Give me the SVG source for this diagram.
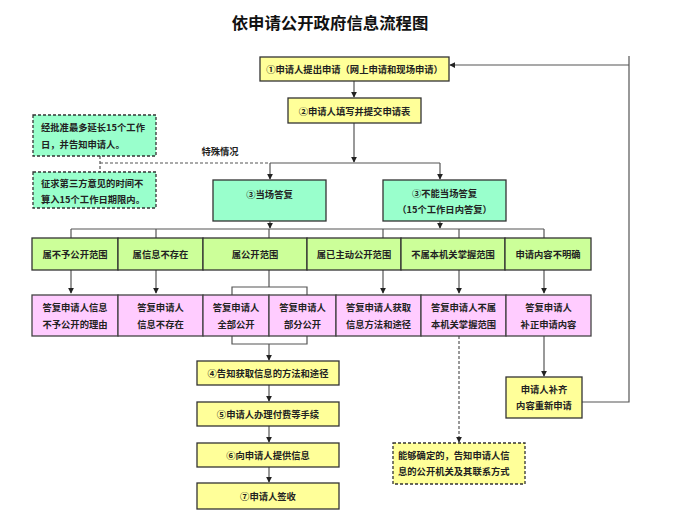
<svg xmlns="http://www.w3.org/2000/svg" width="696" height="529" viewBox="0 0 696 529">
<style>
text{font-family:"Noto Sans CJK SC","Noto Sans",sans-serif;font-size:9.3px;font-weight:bold;fill:#222;text-anchor:middle;dominant-baseline:central}
text.l{text-anchor:start}
.title{font-size:16.4px;fill:#111}
.y{fill:#FFFF99;stroke:#333;stroke-width:1.3}
.m{fill:#99FFCC;stroke:#333;stroke-width:1.3}
.g{fill:#CCFF99;stroke:#333;stroke-width:1.3}
.p{fill:#FFCCFF;stroke:#444;stroke-width:1.3}
.d{stroke:#333;stroke-width:1.3;stroke-dasharray:3 2}
.ln{fill:none;stroke:#555;stroke-width:1.2}
.dl{fill:none;stroke:#555;stroke-width:1.2;stroke-dasharray:3 2}
</style>
<defs>
<marker id="ar" viewBox="0 0 8 8" refX="7" refY="4" markerWidth="6" markerHeight="6" orient="auto" markerUnits="userSpaceOnUse">
<path d="M0,0 L8,4 L0,8 z" fill="#222"/>
</marker>
</defs>
<rect width="696" height="529" fill="#fff"/>
<text class="title" x="330" y="22">依申请公开政府信息流程图</text>

<g id="connectors">
<line class="ln" x1="354" y1="81" x2="354" y2="97" marker-end="url(#ar)"/>
<line class="ln" x1="354" y1="123" x2="354" y2="162" marker-end="url(#ar)"/>
<polyline class="ln" points="270,163 440,163"/>
<line class="ln" x1="270" y1="163" x2="270" y2="179" marker-end="url(#ar)"/>
<line class="ln" x1="440" y1="163" x2="440" y2="179" marker-end="url(#ar)"/>
<polyline class="dl" points="100,156 100,172"/>
<polyline class="dl" points="100,163 270,163"/>
<line class="ln" x1="270" y1="221" x2="270" y2="228" marker-end="url(#ar)"/>
<line class="ln" x1="440" y1="221" x2="440" y2="228" marker-end="url(#ar)"/>
<polyline class="ln" points="71,229 544,229"/>
<line class="ln" x1="71" y1="229" x2="71" y2="238"/>
<line class="ln" x1="156" y1="229" x2="156" y2="238"/>
<line class="ln" x1="269" y1="229" x2="269" y2="238"/>
<line class="ln" x1="383" y1="229" x2="383" y2="238"/>
<line class="ln" x1="459" y1="229" x2="459" y2="238"/>
<line class="ln" x1="544" y1="229" x2="544" y2="238"/>
<line class="ln" x1="71" y1="270" x2="71" y2="293" marker-end="url(#ar)"/>
<line class="ln" x1="156" y1="270" x2="156" y2="293" marker-end="url(#ar)"/>
<line class="ln" x1="269" y1="270" x2="269" y2="287"/>
<polyline class="ln" points="232,295 232,287 307,287 307,295"/>
<polyline class="ln" points="232,336 232,344 307,344 307,336"/>
<line class="ln" x1="269" y1="344" x2="269" y2="360" marker-end="url(#ar)"/>
<line class="ln" x1="383" y1="270" x2="383" y2="293" marker-end="url(#ar)"/>
<line class="ln" x1="459" y1="270" x2="459" y2="293" marker-end="url(#ar)"/>
<line class="ln" x1="544" y1="270" x2="544" y2="293" marker-end="url(#ar)"/>
<line class="ln" x1="269" y1="385" x2="269" y2="401" marker-end="url(#ar)"/>
<line class="ln" x1="269" y1="426" x2="269" y2="442" marker-end="url(#ar)"/>
<line class="ln" x1="269" y1="467" x2="269" y2="482" marker-end="url(#ar)"/>
<line class="ln" x1="544" y1="336" x2="544" y2="376" marker-end="url(#ar)"/>
<polyline class="ln" points="582,402 629,402 629,56"/>
<line class="ln" x1="629" y1="65" x2="450" y2="65" marker-end="url(#ar)"/>
<line class="dl" x1="459" y1="336" x2="459" y2="442" marker-end="url(#ar)"/>
</g>

<text x="220" y="151">特殊情况</text>

<g id="n1"><rect class="y" x="260" y="57" width="189" height="24"/><text x="354.5" y="69">①申请人提出申请（网上申请和现场申请）</text></g>
<g id="n2"><rect class="y" x="288" y="98" width="133" height="25"/><text x="354.5" y="110.5">②申请人填写并提交申请表</text></g>
<g id="d1"><rect class="m d" x="33" y="115" width="123" height="41"/><text class="l" x="41" y="127">经批准最多延长15个工作</text><text class="l" x="41" y="144">日，并告知申请人。</text></g>
<g id="d2"><rect class="m d" x="33" y="172" width="123" height="36"/><text class="l" x="41" y="183">征求第三方意见的时间不</text><text class="l" x="41" y="199">算入15个工作日期限内。</text></g>
<g id="n3a"><rect class="m" x="213" y="180" width="113" height="41"/><text x="269.5" y="194">③当场答复</text></g>
<g id="n3b"><rect class="m" x="383" y="180" width="123" height="41"/><text x="444.5" y="193">③不能当场答复</text><text x="444.5" y="209">（15个工作日内答复）</text></g>

<g id="g1"><rect class="g" x="32" y="238" width="86" height="32"/><text x="75" y="254">属不予公开范围</text></g>
<g id="g2"><rect class="g" x="118" y="238" width="85" height="32"/><text x="160.5" y="254">属信息不存在</text></g>
<g id="g3"><rect class="g" x="203" y="238" width="104" height="32"/><text x="255" y="254">属公开范围</text></g>
<g id="g4"><rect class="g" x="307" y="238" width="94" height="32"/><text x="354" y="254">属已主动公开范围</text></g>
<g id="g5"><rect class="g" x="401" y="238" width="104" height="32"/><text x="453" y="254">不属本机关掌握范围</text></g>
<g id="g6"><rect class="g" x="505" y="238" width="86" height="32"/><text x="548" y="254">申请内容不明确</text></g>

<g id="p1"><rect class="p" x="32" y="295" width="86" height="41"/><text x="75" y="307">答复申请人信息</text><text x="75" y="324">不予公开的理由</text></g>
<g id="p2"><rect class="p" x="118" y="295" width="85" height="41"/><text x="160.5" y="307">答复申请人</text><text x="160.5" y="324">信息不存在</text></g>
<g id="p3"><rect class="p" x="203" y="295" width="66" height="41"/><text x="236" y="307">答复申请人</text><text x="236" y="324">全部公开</text></g>
<g id="p4"><rect class="p" x="269" y="295" width="67" height="41"/><text x="302.5" y="307">答复申请人</text><text x="302.5" y="324">部分公开</text></g>
<g id="p5"><rect class="p" x="336" y="295" width="85" height="41"/><text x="378.5" y="307">答复申请人获取</text><text x="378.5" y="324">信息方法和途径</text></g>
<g id="p6"><rect class="p" x="421" y="295" width="85" height="41"/><text x="463.5" y="307">答复申请人不属</text><text x="463.5" y="324">本机关掌握范围</text></g>
<g id="p7"><rect class="p" x="506" y="295" width="85" height="41"/><text x="548.5" y="307">答复申请人</text><text x="548.5" y="324">补正申请内容</text></g>

<g id="n4"><rect class="y" x="197" y="361" width="142" height="24"/><text x="268" y="373">④告知获取信息的方法和途径</text></g>
<g id="n5"><rect class="y" x="197" y="402" width="142" height="24"/><text x="268" y="414">⑤申请人办理付费等手续</text></g>
<g id="n6"><rect class="y" x="197" y="443" width="142" height="24"/><text x="268" y="455">⑥向申请人提供信息</text></g>
<g id="n7"><rect class="y" x="197" y="483" width="142" height="26"/><text x="268" y="496">⑦申请人签收</text></g>

<g id="n8"><rect class="y" x="506" y="377" width="76" height="41"/><text x="544" y="389">申请人补齐</text><text x="544" y="405">内容重新申请</text></g>
<g id="d3"><rect class="y d" x="393" y="443" width="132" height="41"/><text class="l" x="398" y="455">能够确定的，告知申请人信</text><text class="l" x="398" y="471">息的公开机关及其联系方式</text></g>
</svg>
